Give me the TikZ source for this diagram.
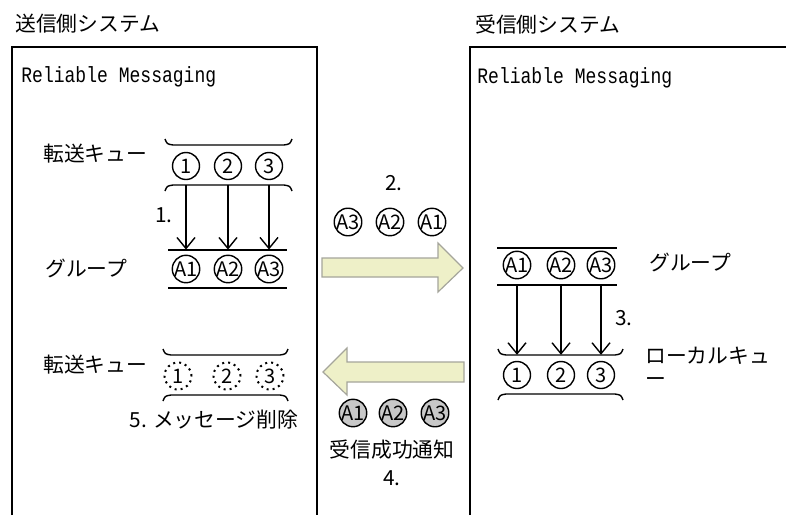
\documentclass[tikz,border=0pt]{standalone}
\usepackage{fontspec}
\setmainfont{Noto Sans CJK JP}
\newfontfamily\rmsgfont[FakeStretch=0.82]{Liberation Mono}
\usepackage{tikz}
\usetikzlibrary{arrows.meta}
\definecolor{paleyellow}{RGB}{238,240,200}
\definecolor{arrowgray}{RGB}{165,165,155}
\definecolor{ackgray}{RGB}{200,200,200}

\begin{document}
\begin{tikzpicture}[x=0.5pt,y=-0.5pt,line width=0.7pt,>={Straight Barb[length=5.5pt,width=9pt]},every node/.style={font=\fontsize{10.4}{11.5}\selectfont}]
\tikzstyle{msg}=[circle,draw,minimum size=13.5pt,inner sep=0pt,font=\fontsize{10}{10}\selectfont]
\tikzstyle{sysbox}=[line width=1pt]
\tikzstyle{bigarrow}=[fill=paleyellow,draw=arrowgray,line width=0.6pt]
\useasboundingbox (0,0) rectangle (786,515);
% systems
\draw[sysbox] (12,515) -- (12,47) -- (317,47) -- (317,515);
\draw[sysbox] (470,515) -- (470,47) -- (786,47);
\node[anchor=west] (sendsys) at (8,24) {送信側システム};
\node[anchor=west] (recvsys) at (468,25) {受信側システム};
\node[anchor=west,font=\rmsgfont\fontsize{11}{12}\selectfont] (sendrm) at (14,77) {Reliable Messaging};
\node[anchor=west,font=\rmsgfont\fontsize{11}{12}\selectfont] (recvrm) at (470,78) {Reliable Messaging};
% queues and groups
\foreach \xa/\xb/\ya/\yb in {165/292/145/185,163/288/355/395,498/623/355/394}{
  \draw (\xa,\ya-6) .. controls (\xa+2,\ya-1) .. (\xa+8,\ya) -- (\xb-8,\ya) .. controls (\xb-2,\ya-1) .. (\xb,\ya-6);
  \draw (\xa,\yb+6) .. controls (\xa+2,\yb+1) .. (\xa+8,\yb) -- (\xb-8,\yb) .. controls (\xb-2,\yb+1) .. (\xb,\yb+6);
}
\foreach \xa/\xb/\ya/\yb in {168/287/250/288,497/617/248/285}{\draw (\xa,\ya) -- (\xb,\ya); \draw (\xa,\yb) -- (\xb,\yb);}
\foreach \i/\x in {1/186,2/228,3/269}{\node[msg] (sq\i) at (\x,166) {\i};}
\foreach \i/\x in {1/186,2/228,3/269}{\node[msg] (sg\i) at (\x,269) {A\i};}
\foreach \i/\x in {1/178,2/227,3/270}{\node[msg,dotted,line width=1pt] (dq\i) at (\x,376) {\i};}
\foreach \i/\x in {3/348,2/390,1/432}{\node[msg] (tm\i) at (\x,222) {A\i};}
\foreach \i/\x in {1/353,2/393,3/435}{\node[msg,fill=ackgray] (ak\i) at (\x,413) {A\i};}
\foreach \i/\x in {1/517,2/561,3/601}{\node[msg] (rg\i) at (\x,265) {A\i};}
\foreach \i/\x in {1/517,2/561,3/601}{\node[msg] (rq\i) at (\x,375) {\i};}
\foreach \i in {1,2,3}{\draw[->,shorten <=2.5pt,shorten >=2.5pt] (sq\i) -- (sg\i);}
\foreach \i in {1,2,3}{\draw[->,shorten <=3.5pt,shorten >=3pt] (rg\i) -- (rq\i);}
% transfer arrows
\draw[bigarrow] (322,258) -- (438,258) -- (438,243) -- (463,268) -- (438,292) -- (438,277) -- (322,277) -- cycle;
\draw[bigarrow] (464,362) -- (347,362) -- (347,348) -- (323,372) -- (347,395) -- (347,382) -- (464,382) -- cycle;
% labels
\node[anchor=west] (sqlabel) at (36,154) {転送キュー};
\node[anchor=west] (sglabel) at (38,268) {グループ};
\node[anchor=west] (dqlabel) at (36,365) {転送キュー};
\node (step1) at (164,215) {1.};
\node (step2) at (394,183) {2.};
\node (step3) at (624,318) {3.};
\node[anchor=west] (rglabel) at (642,262) {グループ};
\node[anchor=west,align=left] (rqlabel) at (638,367) {ローカルキュ\\ー};
\node (step5) at (214,420) {5. メッセージ削除};
\node (acklabel) at (392,450) {受信成功通知};
\node (step4) at (392,478) {4.};
\end{tikzpicture}
\end{document}
